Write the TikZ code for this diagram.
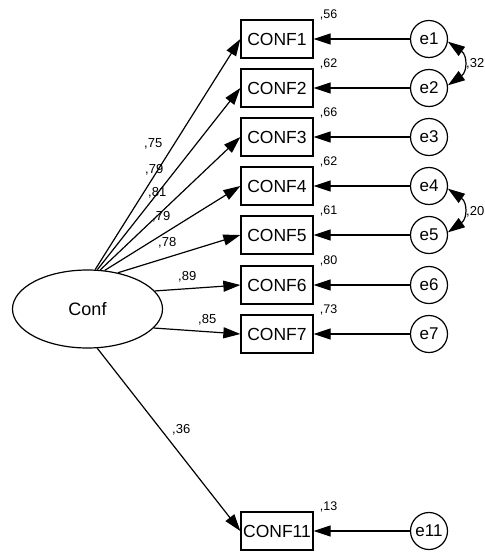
\documentclass[tikz,border=0pt]{standalone}
\usepackage{fontspec}
\setmainfont{Liberation Sans}
\usetikzlibrary{arrows.meta,calc,shapes.geometric}

\tikzset{
  obs/.style={draw, line width=1.3pt, minimum width=72pt, minimum height=38pt,
              inner sep=0pt, font=\fontsize{17.5}{19}\selectfont},
  err/.style={draw, circle, line width=1.2pt, minimum size=37pt, inner sep=0pt,
              font=\fontsize{17}{19}\selectfont},
  latent/.style={draw, ellipse, line width=1.2pt, minimum width=150pt,
                 minimum height=78pt, inner sep=0pt, font=\fontsize{18}{20}\selectfont},
  tip/.style={Triangle[length=17pt,width=11pt]},
  path/.style={line width=1.2pt, -{Triangle[length=17pt,width=11pt]}},
  cov/.style={line width=1.2pt, {Triangle[length=17pt,width=11pt]}-{Triangle[length=17pt,width=11pt]}},
  coef/.style={anchor=west, inner sep=0pt, font=\fontsize{13}{15}\selectfont},
  rsq/.style={anchor=base west, inner sep=0pt, font=\fontsize{12.5}{14}\selectfont}
}

\begin{document}
\begin{tikzpicture}[x=1pt,y=-1pt]
\useasboundingbox (0,0) rectangle (485,552);

% latent factor
\node[latent] (conf) at (87.5,309) {Conf};

% indicators and their error terms
\foreach \n/\y in {1/39,2/88,3/137,4/186,5/235,6/285,7/334,11/531}{
  \node[obs] (c\n) at (277,\y) {CONF\n};
  \node[err] (e\n) at (429,\y) {e\n};
  \draw[path] (e\n) -- (c\n);
}

% factor loadings
\draw[path] (conf.79) -- (c1.west);
\draw[path] (conf.76) -- (c2.west);
\draw[path] (conf.72) -- (c3.west);
\draw[path] (conf.66) -- (c4.west);
\draw[path] (conf.50) -- (c5.west);
\draw[path] (conf.15) -- (c6.west);
\draw[path] (conf.-16) -- (c7.west);
\draw[path] (conf.-76) -- (c11.west);

\node[coef] (l1) at (144,144) {,75};
\node[coef] (l2) at (145,170) {,79};
\node[coef] (l3) at (148,193) {,81};
\node[coef] (l4) at (152,217) {,79};
\node[coef] (l5) at (158,243) {,78};
\node[coef] (l6) at (178,277) {,89};
\node[coef] (l7) at (198,320) {,85};
\node[coef] (l11) at (172,430) {,36};

% squared multiple correlations
\foreach \n/\v in {1/56,2/62,3/66,4/62,5/61,6/80,7/73,11/13}{
  \node[rsq] (r\n) at ($(c\n.north east)+(6,-1)$) {,\v};
}

% error covariances
\draw[cov] (e1.-8) to[out=-35,in=35,looseness=1.4] (e2.8);
\draw[cov] (e4.-8) to[out=-35,in=35,looseness=1.4] (e5.8);
\node[coef] (k12) at (466,64) {,32};
\node[coef] (k45) at (466,212) {,20};
\end{tikzpicture}
\end{document}
